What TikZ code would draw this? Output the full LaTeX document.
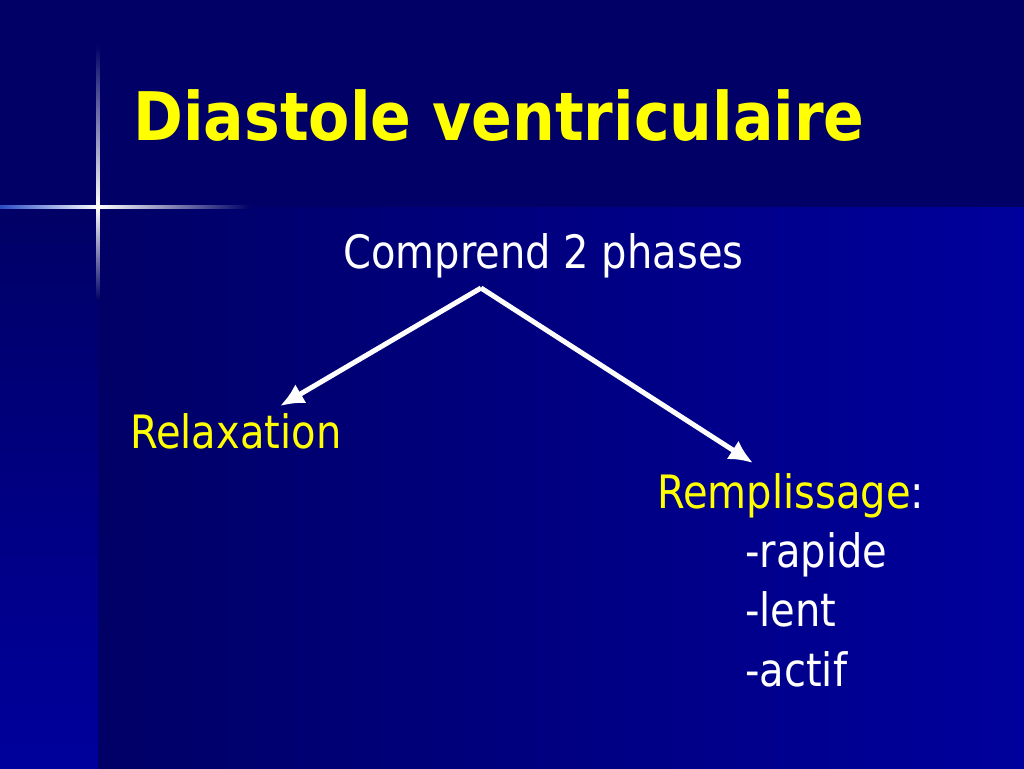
\documentclass[tikz,border=0pt]{standalone}
\usepackage{fontspec}
\setmainfont[FakeStretch=0.87, BoldFeatures={FakeStretch=0.897}]{DejaVu Sans}
\usetikzlibrary{arrows.meta}
\definecolor{fondsombre}{HTML}{000066}
\definecolor{fondclair}{HTML}{00009C}
\definecolor{etoile}{HTML}{3A6CF0}
\definecolor{jaune}{HTML}{FFFF00}
\begin{document}
\begin{tikzpicture}[x=1pt, y=-1pt,
    titre/.style={inner sep=0pt, anchor=base west, text=jaune, font=\fontsize{67}{80}\selectfont\bfseries},
    corps/.style={inner sep=0pt, anchor=base west, text=white, font=\fontsize{46}{55}\selectfont},
    fleche/.style={white, line width=5pt, -{Latex[length=24pt, width=22pt]}}]
    % fond
    \fill[fondsombre] (0,0) rectangle (1024,207);
    \shade[top color=fondsombre, bottom color=fondclair] (0,207) rectangle (98,768);
    \shade[left color=fondsombre, right color=fondclair] (98,207) rectangle (1024,768);

    % etoile
    \shade[left color=etoile!70!fondsombre, right color=white] (0,205.5) rectangle (98,208.5);
    \shade[left color=white, middle color=etoile, right color=fondsombre] (98,205.5) rectangle (250,208.5);
    \shade[top color=fondsombre, middle color=etoile, bottom color=white] (96.5,45) rectangle (99.5,207);
    \shade[top color=white, middle color=etoile, bottom color=fondsombre] (96.5,207) rectangle (99.5,300);

    \node[titre] (titre) at (133,140) {Diastole ventriculaire};
    \node[corps] (comprend) at (343,268) {Comprend 2 phases};
    \node[corps, text=jaune] (relax) at (130,448) {Relaxation};
    \node[corps] (rempl) at (657,508) {\textcolor{jaune}{Remplissage}:};
    \node[corps] (rapide) at (745,567) {-rapide};
    \node[corps] (lent) at (745,626) {-lent};
    \node[corps] (actif) at (745,686) {-actif};

    \coordinate (sommet) at (481,288);
    \coordinate (pointeG) at (280,406);
    \coordinate (pointeD) at (753,463);

    \draw[fleche] (sommet) -- (pointeG);
    \draw[fleche] (sommet) -- (pointeD);
  \end{tikzpicture}
\end{document}
